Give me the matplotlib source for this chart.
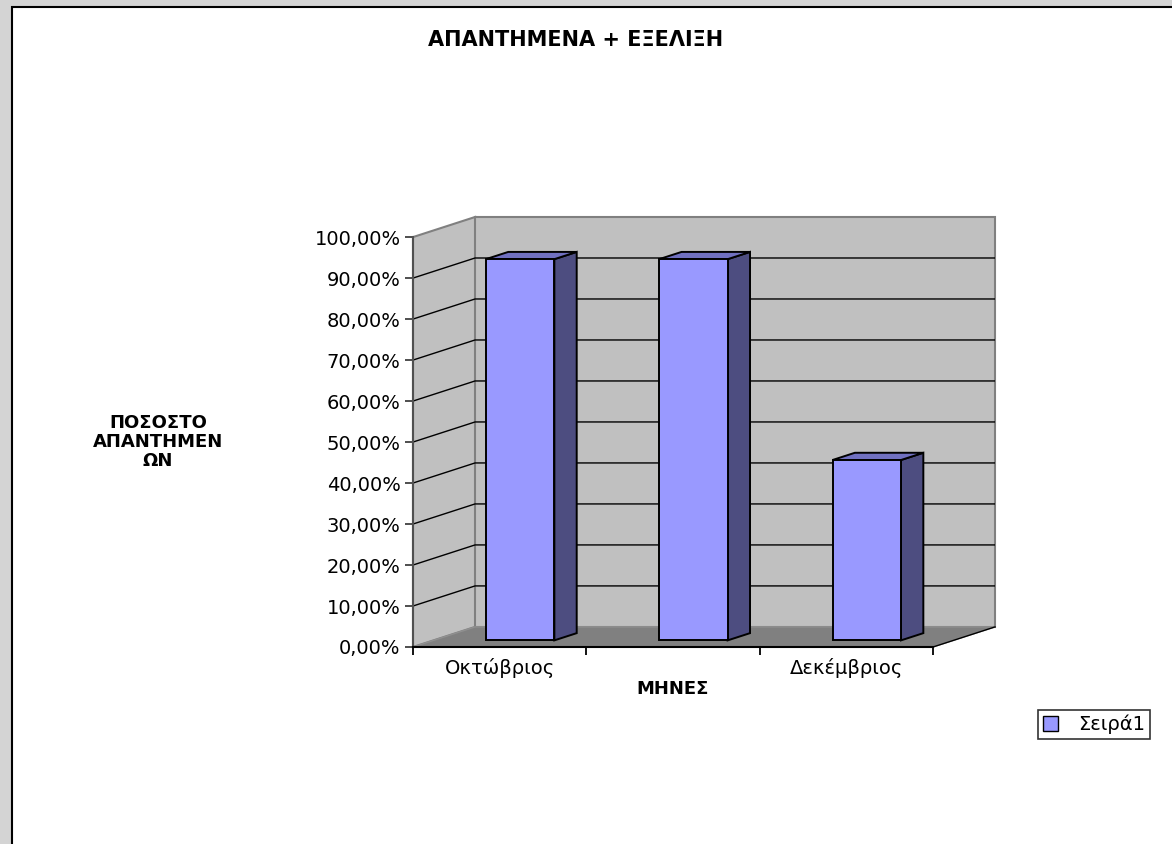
import matplotlib.pyplot as plt
from matplotlib.patches import Polygon, Rectangle, Patch

months = ['Οκτώβριος', 'Νοέμβριος', 'Δεκέμβριος']
month_labels = ['Οκτώβριος', '', 'Δεκέμβριος']
values = [0.93, 0.93, 0.44]
yticks = [0.0, 0.1, 0.2, 0.3, 0.4, 0.5, 0.6, 0.7, 0.8, 0.9, 1.0]
series_name = 'Σειρά1'

W, H = 1172, 844
plt.rcParams['font.family'] = ['DejaVu Sans']

fig = plt.figure(figsize=(W / 100, H / 100), dpi=100)
fig.patch.set_facecolor('#d4d4d4')
# white chart area with black frame
fig.patches.append(Rectangle((12 / W, -0.01), 1.0, 1 - 7 / H + 0.01, transform=fig.transFigure,
                             facecolor='white', edgecolor='black', lw=1.5, zorder=-5))

# 3d oblique depth in data units
ddx, ddy = 0.358, 0.049
n = len(months)

ax = fig.add_axes([413 / W, (H - 647) / H, 582 / W, 430 / H])
ax.set_xlim(0, n + ddx)
ax.set_ylim(0, 1 + ddy)
ax.patch.set_alpha(0)

wall = '#c0c0c0'
edge = '#808080'
# side wall, back wall, floor
ax.add_patch(Polygon([(0, 0), (0, 1), (ddx, 1 + ddy), (ddx, ddy)], closed=True,
                     facecolor=wall, edgecolor=edge, lw=1.5, zorder=1, clip_on=False))
ax.add_patch(Rectangle((ddx, ddy), n, 1, facecolor=wall, edgecolor=edge, lw=1.5, zorder=1,
                       clip_on=False))
ax.add_patch(Polygon([(0, 0), (n, 0), (n + ddx, ddy), (ddx, ddy)], closed=True,
                     facecolor='#808080', edgecolor='#909090', lw=1, zorder=1, clip_on=False))
ax.plot([n, n + ddx], [0, ddy], color='black', lw=1, zorder=2, clip_on=False)

# gridlines
for v in yticks[1:-1]:
    ax.plot([0, ddx, n + ddx], [v, v + ddy, v + ddy], color='black', lw=1, zorder=2)

# bars
f0, f1 = 0.33, 0.69
bw = 0.395
xs = [i + 0.5 + f0 * ddx for i in range(n)]
ax.bar(xs, values, bw, bottom=f0 * ddy, color='#9999ff', edgecolor='black', lw=1.4, zorder=4)
for x, v in zip(xs, values):
    x0, x1 = x - bw / 2, x + bw / 2
    b = f0 * ddy
    t = v + f0 * ddy
    sx, sy = (f1 - f0) * ddx, (f1 - f0) * ddy
    ax.add_patch(Polygon([(x1, b), (x1 + sx, b + sy), (x1 + sx, t + sy), (x1, t)], closed=True,
                         facecolor='#4d4d80', edgecolor='black', lw=1.4, zorder=3))
    ax.add_patch(Polygon([(x0, t), (x0 + sx, t + sy), (x1 + sx, t + sy), (x1, t)], closed=True,
                         facecolor='#7070c0', edgecolor='black', lw=1.4, zorder=3))

# axes
for s in ['top', 'right']:
    ax.spines[s].set_visible(False)
ax.spines['left'].set_bounds(0, 1)
ax.spines['left'].set_color('#505050')
ax.spines['left'].set_linewidth(1.5)
ax.spines['bottom'].set_bounds(0, n)
ax.spines['bottom'].set_linewidth(1.5)
ax.spines['left'].set_zorder(5)
ax.spines['bottom'].set_zorder(5)

ax.set_yticks(yticks)
ax.set_yticklabels([('%.2f%%' % (v * 100)).replace('.', ',') for v in yticks], fontsize=14)
ax.tick_params(axis='y', direction='out', length=6, width=1.3, color='#404040', pad=3)

ax.set_xticks(range(n + 1))
ax.set_xticklabels([''] * (n + 1))
ax.set_xticks([i + 0.5 for i in range(n)], minor=True)
ax.set_xticklabels(month_labels, minor=True, fontsize=14)
ax.tick_params(axis='x', which='major', direction='out', length=6, width=1.3)
ax.tick_params(axis='x', which='minor', length=0, pad=8)

fig.text(576 / W, 1 - 40 / H, 'ΑΠΑΝΤΗΜΕΝΑ + ΕΞΕΛΙΞΗ', ha='center', va='center',
         fontsize=15, fontweight='bold')
fig.text(158 / W, 1 - 442 / H, 'ΠΟΣΟΣΤΟ\nΑΠΑΝΤΗΜΕΝ\nΩΝ', ha='center', va='center',
         fontsize=13, fontweight='bold', linespacing=1.05)
fig.text(673 / W, 1 - 689 / H, 'ΜΗΝΕΣ', ha='center', va='center', fontsize=13, fontweight='bold')

handles = [Patch(facecolor='#9999ff', edgecolor='black', lw=1)]
leg = fig.legend(handles, [series_name], loc='upper left', bbox_to_anchor=(1038 / W, 1 - 710 / H),
                 frameon=True, fancybox=False, edgecolor='black', borderaxespad=0, fontsize=14,
                 handlelength=0.8, handleheight=0.8, handletextpad=1.0, borderpad=0.25)
leg.get_frame().set_linewidth(1.2)

fig.savefig('out.png', dpi=100, facecolor=fig.get_facecolor())
